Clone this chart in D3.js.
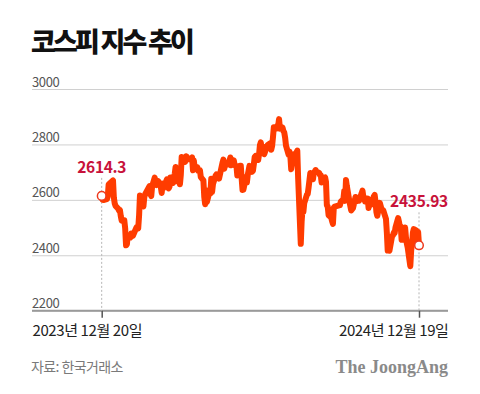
<!DOCTYPE html>
<html>
<head>
<meta charset="utf-8">
<script src="https://cdn.jsdelivr.net/npm/d3@7"></script>
<style>
  body { margin: 0; background: #fff; }
  text { font-family: "Noto Sans CJK KR", "Noto Sans", sans-serif; }
</style>
</head>
<body>
<div id="chart"></div>
<script>
// KOSPI closing values, trading days
const dates = [
  '2023-12-20','2023-12-21','2023-12-22','2023-12-26','2023-12-27','2023-12-28',
  '2024-01-02','2024-01-03','2024-01-04','2024-01-05','2024-01-08','2024-01-09','2024-01-10','2024-01-11','2024-01-12',
  '2024-01-15','2024-01-16','2024-01-17','2024-01-18','2024-01-19','2024-01-22','2024-01-23','2024-01-24','2024-01-25',
  '2024-01-26','2024-01-29','2024-01-30','2024-01-31','2024-02-01','2024-02-02','2024-02-05','2024-02-06','2024-02-07',
  '2024-02-08','2024-02-13','2024-02-14','2024-02-15','2024-02-16','2024-02-19','2024-02-20','2024-02-21','2024-02-22',
  '2024-02-23','2024-02-26','2024-02-27','2024-02-28','2024-02-29','2024-03-04','2024-03-05','2024-03-06','2024-03-07',
  '2024-03-08','2024-03-11','2024-03-12','2024-03-13','2024-03-14','2024-03-15','2024-03-18','2024-03-19','2024-03-20',
  '2024-03-21','2024-03-22','2024-03-25','2024-03-26','2024-03-27','2024-03-28','2024-03-29','2024-04-01','2024-04-02',
  '2024-04-03','2024-04-04','2024-04-05','2024-04-08','2024-04-09','2024-04-11','2024-04-12','2024-04-15','2024-04-16',
  '2024-04-17','2024-04-18','2024-04-19','2024-04-22','2024-04-23','2024-04-24','2024-04-25','2024-04-26','2024-04-29',
  '2024-04-30','2024-05-02','2024-05-03','2024-05-07','2024-05-08','2024-05-09','2024-05-10','2024-05-13','2024-05-14',
  '2024-05-16','2024-05-17','2024-05-20','2024-05-21','2024-05-22','2024-05-23','2024-05-24','2024-05-27','2024-05-28',
  '2024-05-29','2024-05-30','2024-05-31','2024-06-03','2024-06-04','2024-06-05','2024-06-07','2024-06-10','2024-06-11',
  '2024-06-12','2024-06-13','2024-06-14','2024-06-17','2024-06-18','2024-06-19','2024-06-20','2024-06-21','2024-06-24',
  '2024-06-25','2024-06-26','2024-06-27','2024-06-28','2024-07-01','2024-07-02','2024-07-03','2024-07-04','2024-07-05',
  '2024-07-08','2024-07-09','2024-07-10','2024-07-11','2024-07-12','2024-07-15','2024-07-16','2024-07-17','2024-07-18',
  '2024-07-19','2024-07-22','2024-07-23','2024-07-24','2024-07-25','2024-07-26','2024-07-29','2024-07-30','2024-07-31',
  '2024-08-01','2024-08-02','2024-08-05','2024-08-06','2024-08-07','2024-08-08','2024-08-09','2024-08-12','2024-08-13',
  '2024-08-14','2024-08-16','2024-08-19','2024-08-20','2024-08-21','2024-08-22','2024-08-23','2024-08-26','2024-08-27',
  '2024-08-28','2024-08-29','2024-08-30','2024-09-02','2024-09-03','2024-09-04','2024-09-05','2024-09-06','2024-09-09',
  '2024-09-10','2024-09-11','2024-09-12','2024-09-13','2024-09-19','2024-09-20','2024-09-23','2024-09-24','2024-09-25',
  '2024-09-26','2024-09-27','2024-09-30','2024-10-02','2024-10-04','2024-10-07','2024-10-08','2024-10-10','2024-10-11',
  '2024-10-14','2024-10-15','2024-10-16','2024-10-17','2024-10-18','2024-10-21','2024-10-22','2024-10-23','2024-10-24',
  '2024-10-25','2024-10-28','2024-10-29','2024-10-30','2024-10-31','2024-11-01','2024-11-04','2024-11-05','2024-11-06',
  '2024-11-07','2024-11-08','2024-11-11','2024-11-12','2024-11-13','2024-11-14','2024-11-15','2024-11-18','2024-11-19',
  '2024-11-20','2024-11-21','2024-11-22','2024-11-25','2024-11-26','2024-11-27','2024-11-28','2024-11-29','2024-12-02',
  '2024-12-03','2024-12-04','2024-12-05','2024-12-06','2024-12-09','2024-12-10','2024-12-11','2024-12-12','2024-12-13',
  '2024-12-16','2024-12-17','2024-12-18','2024-12-19'
];

const closes = [
  2614.30, 2600.02, 2599.51, 2602.59, 2613.50, 2655.28,
  2669.81, 2607.31, 2587.02, 2578.08, 2567.82, 2561.24, 2562.59, 2540.27, 2525.05,
  2525.99, 2497.59, 2435.90, 2440.04, 2472.74, 2464.35, 2478.61, 2469.69, 2470.34,
  2478.56, 2500.65, 2498.81, 2497.09, 2542.46, 2615.31, 2591.31, 2576.20, 2609.58,
  2620.32, 2649.64, 2620.42, 2613.80, 2648.76, 2680.26, 2657.79, 2653.31, 2664.27,
  2667.70, 2647.08, 2625.05, 2658.55, 2642.36, 2674.27, 2649.40, 2641.49, 2647.62,
  2680.35, 2660.93, 2681.81, 2693.57, 2718.76, 2666.84, 2685.84, 2656.17, 2690.14,
  2754.86, 2748.56, 2737.57, 2757.09, 2755.11, 2745.82, 2746.63, 2747.86, 2753.16,
  2706.97, 2742.00, 2714.21, 2717.65, 2705.16, 2706.96, 2681.82, 2670.43, 2609.63,
  2584.18, 2634.70, 2591.86, 2629.44, 2623.02, 2675.75, 2628.62, 2656.33, 2687.44,
  2692.06, 2683.65, 2676.63, 2734.36, 2745.05, 2712.14, 2727.63, 2727.21, 2730.34,
  2753.00, 2724.62, 2742.14, 2724.18, 2723.46, 2721.81, 2687.60, 2722.99, 2722.85,
  2677.30, 2635.44, 2636.52, 2682.52, 2662.10, 2689.50, 2722.67, 2701.17, 2705.31,
  2728.17, 2754.89, 2758.42, 2744.10, 2763.92, 2797.33, 2807.63, 2784.06, 2764.76,
  2774.39, 2792.05, 2784.18, 2797.82, 2804.31, 2780.86, 2794.01, 2824.94, 2862.23,
  2857.76, 2867.38, 2867.99, 2891.35, 2857.00, 2860.92, 2848.71, 2843.20, 2824.35,
  2795.46, 2763.51, 2774.35, 2758.47, 2710.65, 2731.90, 2765.51, 2738.19, 2770.69,
  2777.68, 2676.19, 2441.55, 2522.15, 2568.41, 2556.73, 2588.43, 2618.30, 2621.50,
  2644.50, 2697.23, 2674.36, 2696.63, 2701.13, 2707.67, 2701.69, 2698.01, 2689.83,
  2689.25, 2662.28, 2674.31, 2681.00, 2664.63, 2580.80, 2576.26, 2544.28, 2535.93,
  2523.43, 2513.37, 2572.09, 2575.41, 2580.80, 2593.37, 2602.01, 2631.68, 2596.32,
  2671.57, 2649.78, 2593.27, 2561.69, 2569.71, 2610.38, 2594.36, 2599.16, 2596.91,
  2623.41, 2633.45, 2610.36, 2609.30, 2593.82, 2604.57, 2570.70, 2599.62, 2581.03,
  2583.27, 2612.43, 2617.80, 2593.79, 2556.15, 2542.36, 2588.97, 2576.88, 2563.51,
  2564.63, 2561.15, 2531.66, 2482.57, 2417.08, 2418.86, 2416.86, 2469.07, 2471.95,
  2481.69, 2480.63, 2501.24, 2534.34, 2520.36, 2503.06, 2504.67, 2455.91, 2455.89,
  2500.10, 2464.00, 2441.85, 2428.16, 2360.58, 2417.84, 2442.51, 2482.12, 2494.46,
  2488.97, 2456.81, 2484.43, 2435.93
];

const yTicks = [2200, 2400, 2600, 2800, 3000];
const xTickLabels = ['2023년 12월 20일', '2024년 12월 19일'];
const callouts = ['2614.3', '2435.93'];

const width = 480;
const height = 394;
const left = 32;
const right = 448;

const parse = d3.timeParse('%Y-%m-%d');
const data = dates.map((d, i) => ({ date: parse(d), value: closes[i] }));
const first = data[0];
const last = data[data.length - 1];

const svg = d3.select('#chart')
    .append('svg')
    .attr('width', width)
    .attr('height', height);

// scales
const x = d3.scaleTime()
    .domain([first.date, last.date])
    .range([101.7, 419]);

const y = d3.scaleLinear()
    .domain([2200, 3000])
    .range([310.7, 89]);

// title
svg.append('text')
    .attr('x', 31)
    .attr('y', 52)
    .attr('font-size', 27)
    .attr('font-weight', 900)
    .attr('letter-spacing', -2.8)
    .attr('fill', '#111')
    .text('코스피 지수 추이');

// gridlines + y labels
const yAxis = d3.axisRight(y)
    .tickValues(yTicks)
    .tickSize(right - left)
    .tickFormat(d3.format('d'));

const yAxisGroup = svg.append('g')
    .attr('transform', `translate(${left},0)`)
    .call(yAxis);

yAxisGroup.select('.domain').remove();
yAxisGroup.selectAll('line')
    .attr('stroke', '#d0d0d0')
    .attr('stroke-width', 1);
yAxisGroup.selectAll('text')
    .attr('x', 0)
    .attr('y', -3)
    .attr('dy', 0)
    .attr('text-anchor', 'start')
    .attr('font-size', 13)
    .attr('letter-spacing', -0.4)
    .attr('fill', '#555')
    .style('font-family', '"Noto Sans CJK KR", sans-serif');

// baseline
svg.append('line')
    .attr('x1', left)
    .attr('x2', right)
    .attr('y1', y(2200))
    .attr('y2', y(2200))
    .attr('stroke', '#9a9a9a')
    .attr('stroke-width', 2);

// x axis ticks + labels
const xAxis = d3.axisBottom(x)
    .tickValues([first.date, last.date])
    .tickSize(7)
    .tickFormat((d, i) => xTickLabels[i]);

const xAxisGroup = svg.append('g')
    .attr('transform', `translate(0,${y(2200)})`)
    .call(xAxis);

xAxisGroup.select('.domain').remove();
xAxisGroup.selectAll('line')
    .attr('stroke', '#555')
    .attr('stroke-width', 1.5);
xAxisGroup.selectAll('text')
    .attr('y', 25)
    .attr('dy', 0)
    .attr('font-size', 15)
    .attr('letter-spacing', -0.4)
    .attr('fill', '#222')
    .attr('text-anchor', (d, i) => i === 0 ? 'start' : 'end')
    .attr('x', (d, i) => i === 0 ? left - x(d) : right - x(d))
    .style('font-family', '"Noto Sans CJK KR", sans-serif');

// dotted guides for first / last points
const ends = [
    { d: first, label: callouts[0], offset: -23 },
    { d: last, label: callouts[1], offset: -38 }
];

svg.selectAll('.guide')
    .data(ends)
    .enter()
    .append('line')
        .attr('class', 'guide')
        .attr('x1', e => x(e.d.date))
        .attr('x2', e => x(e.d.date))
        .attr('y1', e => y(e.d.value) + e.offset + 5)
        .attr('y2', y(2200))
        .attr('stroke', '#b5b5b5')
        .attr('stroke-width', 1)
        .attr('stroke-dasharray', '2,2');

// line
const line = d3.line()
    .x(d => x(d.date))
    .y(d => y(d.value));

svg.append('path')
    .datum(data)
    .attr('d', line)
    .attr('fill', 'none')
    .attr('stroke', '#ff3c00')
    .attr('stroke-width', 6)
    .attr('stroke-linejoin', 'round')
    .attr('stroke-linecap', 'round');

// end markers
svg.selectAll('.marker')
    .data(ends)
    .enter()
    .append('circle')
        .attr('class', 'marker')
        .attr('cx', e => x(e.d.date))
        .attr('cy', e => y(e.d.value))
        .attr('r', 4.3)
        .attr('fill', '#fff')
        .attr('stroke', '#ee3a1e')
        .attr('stroke-width', 1.5);

svg.selectAll('.callout')
    .data(ends)
    .enter()
    .append('text')
        .attr('class', 'callout')
        .attr('x', e => x(e.d.date))
        .attr('y', e => y(e.d.value) + e.offset)
        .attr('text-anchor', 'middle')
        .attr('font-size', 15.5)
        .attr('font-weight', 700)
        .attr('letter-spacing', -0.3)
        .attr('fill', '#c8123a')
        .text(e => e.label);

// footer
svg.append('text')
    .attr('x', 31)
    .attr('y', 372)
    .attr('font-size', 14)
    .attr('letter-spacing', -0.6)
    .attr('fill', '#7a7a7a')
    .text('자료: 한국거래소');

svg.append('text')
    .attr('x', right)
    .attr('y', 373)
    .attr('text-anchor', 'end')
    .attr('font-size', 18)
    .attr('font-weight', 700)
    .attr('fill', '#8a8a8a')
    .style('font-family', '"Liberation Serif", "DejaVu Serif", serif')
    .text('The JoongAng');
</script>
</body>
</html>
